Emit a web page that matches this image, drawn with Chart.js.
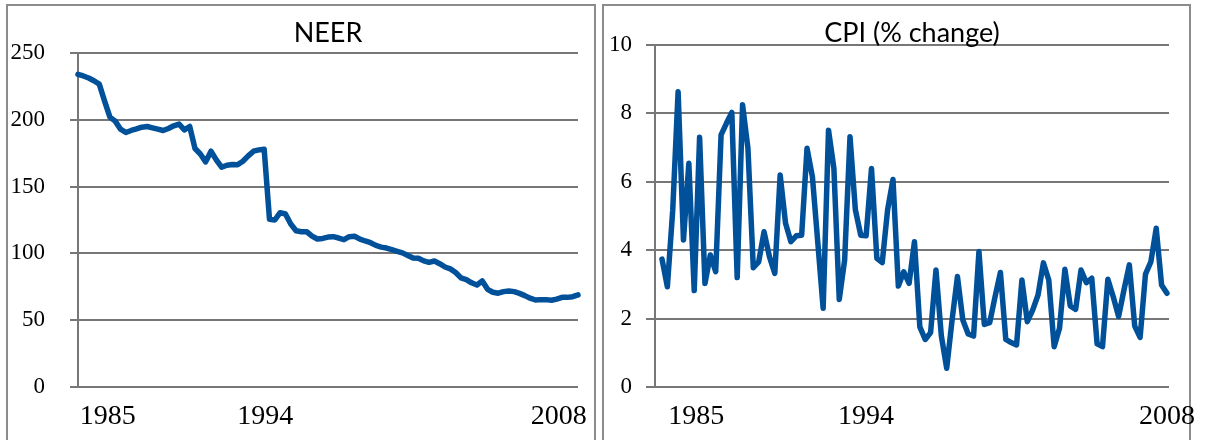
<!DOCTYPE html>
<html>
<head>
<meta charset="utf-8">
<script src="https://cdn.jsdelivr.net/npm/chart.js@4.4.1/dist/chart.umd.min.js"></script>
<style>
  html, body { margin: 0; padding: 0; background: #fff; width: 1207px; height: 440px; overflow: hidden; }
  .panel { position: absolute; top: 4px; height: 520px; border: 2px solid #8c8c8c; box-sizing: border-box; }
  canvas { position: absolute; top: 0; }
</style>
</head>
<body>
<div class="panel" style="left:6px;width:590px"></div>
<div class="panel" style="left:602px;width:589px"></div>
<canvas id="neer" width="600" height="440" style="left:0"></canvas>
<canvas id="cpi" width="607" height="440" style="left:600px"></canvas>
<script>
// quarterly series, 1984 to 2008 (95 points)
var neerValues = [
  234, 232.8, 231.3, 229.2, 226.7, 214, 202, 199, 193, 190.5,
  192, 193.2, 194.5, 195, 194, 193, 192, 193.5, 195.5, 196.8,
  192.5, 195, 178.5, 174.4, 168.5, 176.5, 170, 164.5, 166, 166.5,
  166.3, 169, 173, 176.5, 177.5, 178, 125.5, 125, 130.5, 129.5,
  122, 117, 116.2, 116.2, 113, 110.8, 111.2, 112.2, 112.5, 111.5,
  110.3, 112.5, 112.8, 110.7, 109.3, 108, 106, 104.7, 104, 102.8,
  101.6, 100.4, 98.5, 96.6, 96.3, 94.4, 93.3, 94.3, 92.3, 89.8,
  88.4, 85.7, 81.7, 80.4, 78, 76.4, 79.4, 73.1, 70.9, 70.2,
  71.4, 71.9, 71.4, 70.1, 68.4, 66.5, 65.1, 65.4, 65.4, 64.9,
  65.8, 67.1, 67.1, 67.6, 69
];
var cpiValues = [
  3.74, 2.93, 5.17, 8.63, 4.30, 6.54, 2.82, 7.30, 3.03, 3.86,
  3.37, 7.37, 7.71, 8.03, 3.20, 8.25, 6.98, 3.49, 3.66, 4.54,
  3.81, 3.32, 6.20, 4.79, 4.25, 4.42, 4.44, 6.98, 6.15, 4.23,
  2.30, 7.51, 6.39, 2.56, 3.71, 7.32, 5.18, 4.44, 4.42, 6.39,
  3.76, 3.64, 5.18, 6.07, 2.95, 3.37, 3.03, 4.25, 1.76, 1.39,
  1.59, 3.42, 1.5, 0.55, 1.96, 3.23, 1.96, 1.55, 1.49, 3.96,
  1.83, 1.88, 2.64, 3.35, 1.39, 1.30, 1.23, 3.13, 1.91, 2.25,
  2.69, 3.63, 3.13, 1.18, 1.72, 3.44, 2.37, 2.27, 3.42, 3.05,
  3.18, 1.26, 1.18, 3.15, 2.64, 2.06, 2.84, 3.57, 1.78, 1.45,
  3.30, 3.66, 4.64, 2.98, 2.74
];
var yearLabels = ['1985', '1994', '2008'];
var neerYearPos = [5.6, 35.2, 90.4];
var cpiYearPos = [6.4, 38, 94];

var lineColor = '#00509a';
var gridColor = '#777777';
var serif = "'Liberation Serif', 'DejaVu Serif', serif";

function makeChart(id, title, values, yMax, yStep, yearPos, g) {
  var ctx = document.getElementById(id).getContext('2d');
  return new Chart(ctx, {
    type: 'line',
    data: {
      datasets: [{
        data: values.map(function (v, i) { return { x: i, y: v }; }),
        borderColor: lineColor,
        borderWidth: 5.5,
        pointRadius: 0,
        tension: 0,
        borderJoinStyle: 'round',
        borderCapStyle: 'round',
        clip: false
      }]
    },
    options: {
      responsive: false,
      animation: false,
      devicePixelRatio: 1,
      layout: { padding: { left: 0, right: g.padRight, top: 0, bottom: 0 } },
      plugins: {
        legend: { display: false },
        tooltip: { enabled: false },
        title: {
          display: true,
          text: title,
          fullSize: false,
          color: '#000',
          font: { family: "Lato, 'Open Sans', sans-serif", size: 27, weight: 'normal', lineHeight: 1 },
          padding: { top: 20, bottom: g.top - 47 }
        }
      },
      scales: {
        x: {
          type: 'linear',
          min: g.xMin,
          max: g.xMax,
          grid: { display: false },
          border: { display: false },
          afterBuildTicks: function (s) {
            s.ticks = yearPos.map(function (p) { return { value: p }; });
          },
          afterFit: function (s) { s.height = 440 - g.bottom; },
          ticks: {
            autoSkip: false,
            maxRotation: 0,
            padding: 5,
            color: '#000',
            font: { family: serif, size: 28 },
            callback: function (v, i) { return yearLabels[i]; }
          }
        },
        y: {
          min: 0,
          max: yMax,
          afterFit: function (s) { s.width = g.left; },
          grid: { color: gridColor, lineWidth: 2, tickLength: g.tick },
          border: { display: true, color: gridColor, width: 2 },
          ticks: {
            stepSize: yStep,
            padding: g.labelPad,
            color: '#000',
            font: { family: serif, size: 23 }
          }
        }
      }
    }
  });
}

makeChart('neer', 'NEER', neerValues, 250, 50, neerYearPos,
  { left: 78, padRight: 22, top: 53, bottom: 387, tick: 8, labelPad: 25, xMin: 0, xMax: 94 });
makeChart('cpi', 'CPI (% change)', cpiValues, 10, 2, cpiYearPos,
  { left: 55, padRight: 38, top: 45, bottom: 387, tick: 9, labelPad: 14, xMin: -1.3, xMax: 94.38 });
</script>
</body>
</html>
